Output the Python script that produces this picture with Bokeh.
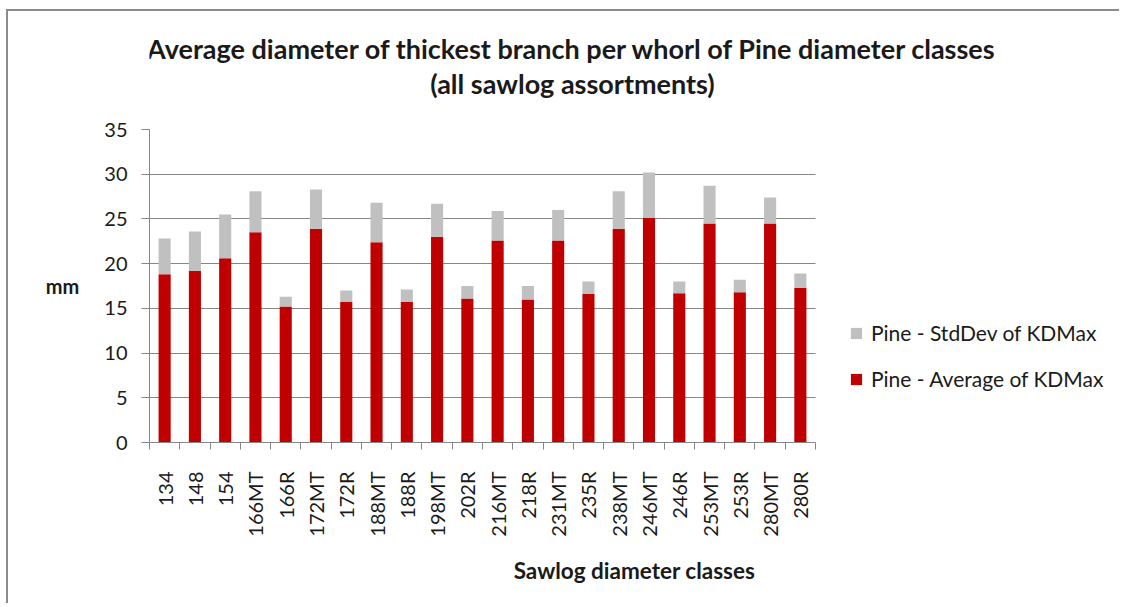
import numpy as np
from bokeh.plotting import figure
from bokeh.layouts import column
from bokeh.models import Range1d, FixedTicker, Legend, LegendItem, Label, ColumnDataSource
from bokeh.embed import file_html
from bokeh.resources import INLINE

categories = ["134", "148", "154", "166MT", "166R", "172MT", "172R", "188MT", "188R",
              "198MT", "202R", "216MT", "218R", "231MT", "235R", "238MT", "246MT",
              "246R", "253MT", "253R", "280MT", "280R"]
avg_kdmax = [18.8, 19.2, 20.6, 23.5, 15.2, 23.9, 15.7, 22.4, 15.7, 23.0, 16.1,
             22.6, 16.0, 22.6, 16.6, 23.9, 25.1, 16.7, 24.5, 16.8, 24.5, 17.3]
std_kdmax = [4.0, 4.4, 4.9, 4.6, 1.1, 4.4, 1.3, 4.4, 1.4, 3.7, 1.4,
             3.3, 1.5, 3.4, 1.4, 4.2, 5.1, 1.3, 4.2, 1.4, 2.9, 1.6]
y_ticks = [0, 5, 10, 15, 20, 25, 30, 35]
y_max = 35
title_lines = ["Average diameter of thickest branch per whorl of Pine diameter classes",
               "(all sawlog assortments)"]

FONT = "Lato"
TXT = "#1a1a1a"
n = len(categories)
xpos = [i + 0.5 for i in range(n)]
src = ColumnDataSource(dict(x=xpos, avg=avg_kdmax, std=std_kdmax))

# ---- layout sizes (pixels)
W = 1111
TITLE_H = 106
TOP = 12
H = 474 + TOP
left, bottom = 141, 161
plot_w = 666
frame_w = W - left
x_end = n * frame_w / plot_w        # frame extends right to hold the legend

# ---- title strip (its own small svg figure; its frame is aligned with the chart's)
pt = figure(width=W, height=TITLE_H, x_range=Range1d(left, W), y_range=Range1d(0, TITLE_H),
            output_backend="svg", toolbar_location=None, x_axis_type=None,
            y_axis_type=None, min_border=0, min_border_left=left)
pt.outline_line_color = None
pt.background_fill_color = "white"
pt.border_fill_color = "white"
for ty, txt in zip([TITLE_H - 36.6, TITLE_H - 72.4], title_lines):
    pt.add_layout(Label(x=564, y=ty, text=txt, text_align="center", text_baseline="middle",
                        text_font=FONT, text_font_size="27px", text_font_style="bold",
                        text_color=TXT))

# ---- main chart
p = figure(width=W, height=H, x_range=Range1d(0, x_end), y_range=Range1d(0, y_max),
           output_backend="svg", toolbar_location=None,
           min_border_left=left, min_border_right=0, min_border_top=TOP,
           min_border_bottom=bottom)
p.outline_line_color = None
p.background_fill_color = "white"
p.border_fill_color = "white"

rs = p.vbar_stack(["avg", "std"], x="x", width=0.4, source=src,
                  color=["#C00000", "#C0C0C0"], line_color=None)

# y axis
p.yaxis.ticker = FixedTicker(ticks=y_ticks)
p.yaxis.axis_line_color = "#868686"
p.yaxis.major_tick_line_color = "#868686"
p.yaxis.major_tick_out = 8
p.yaxis.major_tick_in = 0
p.yaxis.minor_tick_line_color = None
p.yaxis.major_label_standoff = 14
p.yaxis.major_label_text_font = FONT
p.yaxis.major_label_text_font_size = "20px"
p.yaxis.major_label_text_color = TXT
p.yaxis.axis_label = "mm"
p.yaxis.axis_label_orientation = "horizontal"
p.yaxis.axis_label_standoff = 22
p.yaxis.axis_label_text_font = FONT
p.yaxis.axis_label_text_font_size = "20px"
p.yaxis.axis_label_text_font_style = "bold"
p.yaxis.axis_label_text_color = TXT

# x axis: labels at category centres, ticks at category boundaries
p.xaxis.ticker = FixedTicker(ticks=xpos, minor_ticks=list(range(n + 1)))
p.xaxis.bounds = (0, n)
p.xaxis.major_label_overrides = {x: c for x, c in zip(xpos, categories)}
p.xaxis.major_tick_line_color = None
p.xaxis.major_tick_out = 0
p.xaxis.major_tick_in = 0
p.xaxis.minor_tick_line_color = "#868686"
p.xaxis.minor_tick_out = 7
p.xaxis.minor_tick_in = 0
p.xaxis.axis_line_color = "#868686"
p.xaxis.major_label_orientation = np.pi / 2
p.xaxis.major_label_standoff = 22
p.xaxis.major_label_text_font = FONT
p.xaxis.major_label_text_font_size = "20px"
p.xaxis.major_label_text_color = TXT
p.xaxis.axis_label = "Sawlog diameter classes"
p.xaxis.axis_label_standoff = 17
p.xaxis.axis_label_text_font = FONT
p.xaxis.axis_label_text_font_size = "22.5px"
p.xaxis.axis_label_text_font_style = "bold"
p.xaxis.axis_label_text_color = TXT

p.xgrid.grid_line_color = None
p.ygrid.ticker = FixedTicker(ticks=y_ticks)
p.ygrid.grid_line_color = "#868686"
p.ygrid.cross_bounds = (0, n)

legend = Legend(items=[LegendItem(label="Pine - StdDev of KDMax", renderers=[rs[1]]),
                       LegendItem(label="Pine - Average of KDMax", renderers=[rs[0]])],
                location=(700, 51), orientation="vertical",
                glyph_width=14, glyph_height=14, label_standoff=8, spacing=21,
                padding=0, margin=0, border_line_color=None,
                background_fill_alpha=0,
                label_text_font=FONT, label_text_font_size="21px",
                label_text_color=TXT)
p.add_layout(legend, "center")

layout = column(pt, p, spacing=0)
layout.styles = {"margin-left": "6px", "margin-top": "9px",
                 "border-left": "2px solid #8c8c8c", "border-top": "2px solid #8c8c8c"}

open("out.html", "w").write(file_html(layout, INLINE))
